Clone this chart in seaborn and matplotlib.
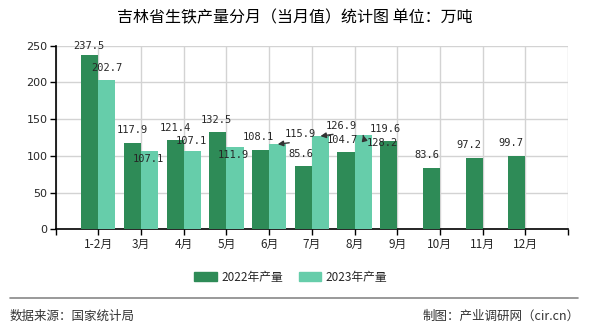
import numpy as np
import pandas as pd
import matplotlib
matplotlib.use("Agg")
import matplotlib.pyplot as plt
import seaborn as sns
from matplotlib.lines import Line2D

months = ["1-2月", "3月", "4月", "5月", "6月", "7月", "8月", "9月", "10月", "11月", "12月"]
values_2022 = [237.5, 117.9, 121.4, 132.5, 108.1, 85.6, 104.7, 119.6, 83.6, 97.2, 99.7]
values_2023 = [202.7, 107.1, 107.1, 111.9, 115.9, 126.9, 128.2, np.nan, np.nan, np.nan, np.nan]
series = ["2022年产量", "2023年产量"]
yticks = [0, 50, 100, 150, 200, 250]
title = "吉林省生铁产量分月（当月值）统计图 单位：万吨"
source_text = "数据来源：国家统计局"
credit_text = "制图：产业调研网（cir.cn）"

colors = ["#2E8B57", "#66CDAA"]

df = pd.DataFrame({
    "month": months * 2,
    "value": values_2022 + values_2023,
    "series": [series[0]] * len(months) + [series[1]] * len(months),
})

sns.set_theme(style="white")
plt.rcParams["font.family"] = ["Noto Sans CJK SC", "DejaVu Sans"]

W, H = 590, 330
fig = plt.figure(figsize=(W / 100, H / 100), dpi=100)
ax = fig.add_axes([55.7 / W, 1 - 229.3 / H, (568 - 55.7) / W, (229.3 - 45.7) / H])

sns.barplot(data=df, x="month", y="value", hue="series", order=months,
            hue_order=series, palette=colors, width=0.8, saturation=1,
            ax=ax, legend=False, zorder=3, errorbar=None,
            linewidth=0, edgecolor="none")

ax.set_xlim(-1, len(months))
ax.set_ylim(0, 250)
ax.set_yticks(yticks)
ax.set_yticklabels([str(v) for v in yticks], fontsize=8, family="DejaVu Sans")
ax.set_xticks(range(-1, len(months) + 1))
ax.set_xticklabels([""] + months + [""], fontsize=8.5)
ax.set_xlabel("")
ax.set_ylabel("")
ax.tick_params(axis="both", length=4, width=1, color="black", pad=2, direction="out")
ax.tick_params(axis="x", bottom=True)
ax.tick_params(axis="y", left=True)
for s in ["top", "right"]:
    ax.spines[s].set_visible(False)
for s in ["left", "bottom"]:
    ax.spines[s].set_color("black")
    ax.spines[s].set_linewidth(1.2)
ax.grid(True, color="#d3d3d3", linewidth=1, zorder=0)
ax.set_axisbelow(True)

# data labels (offsets in pixels relative to bar top centre)
off_2022 = [(-0.6, 9), (-0.3, 12.6), (-0.3, 12), (-2, 12), (-2, 13), (-2, 12.3),
            (-3.4, 12.3), (-3.4, 12), (-5, 12.7), (-5, 12.8), (-5.6, 12.7)]
off_2023 = [(0, 12.7), (-1.3, -8.8), (-0.9, 9.5), (-2, -8), (22.5, 9.7),
            (21, 10), (19, -7.7)]
arrow_rel = {4: (1, 0), 5: (1, 0), 6: (0, 0)}
bw = 0.4
for i, v in enumerate(values_2022):
    dx, dy = off_2022[i]
    ax.annotate(f"{v:.1f}", xy=(i - bw / 2, v), xytext=(dx, dy),
                textcoords="offset pixels", ha="center", va="center",
                fontsize=7.5, family="DejaVu Sans Mono", zorder=5)
for i, v in enumerate(values_2023):
    if np.isnan(v):
        continue
    dx, dy = off_2023[i]
    kw = {}
    if i in arrow_rel:
        kw["arrowprops"] = dict(arrowstyle="-|>", color="#333333", lw=1,
                                mutation_scale=8, relpos=arrow_rel[i],
                                shrinkA=0, shrinkB=0)
    ax.annotate(f"{v:.1f}", xy=(i + bw / 2, v), xytext=(dx, dy),
                textcoords="offset pixels", ha="center", va="center",
                fontsize=7.5, family="DejaVu Sans Mono", zorder=5, **kw)

fig.text(0.5, 1 - 18 / H, title, ha="center", va="center", fontsize=11.5, color="black")

handles = [plt.Rectangle((0, 0), 1, 1, color=c) for c in colors]
fig.legend(handles, series, loc="center", bbox_to_anchor=(291 / W, 1 - 277 / H),
           ncol=2, frameon=False, fontsize=8.5, handlelength=1.9, handleheight=0.8,
           columnspacing=1.3, handletextpad=0.4)

fig.add_artist(Line2D([10 / W, 578 / W], [1 - 298 / H, 1 - 298 / H],
                      color="#888888", lw=1.2, transform=fig.transFigure))
fig.text(10 / W, 1 - 316 / H, source_text, ha="left", va="center", fontsize=9, color="#333333")
fig.text(580 / W, 1 - 316 / H, credit_text, ha="right", va="center", fontsize=9, color="#333333")

fig.savefig("out.png", dpi=100, facecolor="white")
